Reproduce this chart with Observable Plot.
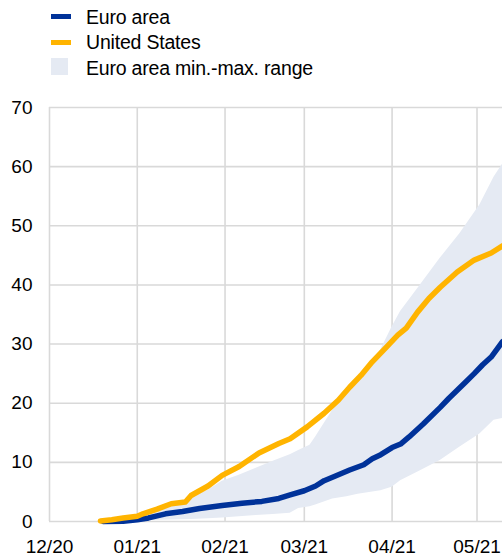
<!DOCTYPE html>
<html>
<head>
<meta charset="utf-8">
<script src="https://cdn.jsdelivr.net/npm/d3@7"></script>
<script src="https://cdn.jsdelivr.net/npm/@observablehq/plot@0.6"></script>
<style>
  html, body { margin: 0; padding: 0; background: #fff; }
  #wrap { position: relative; width: 502px; height: 556px; overflow: hidden; font-family: "Liberation Sans", Arial, sans-serif; }
  #legend { position: relative; width: 502px; height: 88px; }
  .sw { position: absolute; }
  .lt { position: absolute; left: 86px; font-size: 19.5px; line-height: 19.5px; color: #000; white-space: nowrap; letter-spacing: -0.2px; }
</style>
</head>
<body>
<div id="wrap">
  <div id="legend"></div>
  <div id="chart"></div>
</div>
<script>
// ---- Data ----
const euroDates = ["2020-12-20","2020-12-27","2021-01-01","2021-01-05","2021-01-11","2021-01-17","2021-01-23","2021-01-31","2021-02-07","2021-02-14","2021-02-20","2021-02-24","2021-03-01","2021-03-05","2021-03-08","2021-03-12","2021-03-17","2021-03-22","2021-03-25","2021-03-28","2021-04-01","2021-04-04","2021-04-07","2021-04-12","2021-04-18","2021-04-21","2021-04-24","2021-04-27","2021-04-30","2021-05-03","2021-05-06","2021-05-10"];
const euroValues = [0,0.05,0.3,0.6,1.3,1.7,2.2,2.7,3.1,3.4,3.9,4.5,5.2,6.0,6.9,7.7,8.7,9.6,10.6,11.3,12.5,13.1,14.3,16.5,19.3,20.8,22.2,23.6,25.0,26.5,27.8,30.4];

const usDates = ["2020-12-19","2020-12-23","2020-12-27","2021-01-01","2021-01-03","2021-01-08","2021-01-13","2021-01-18","2021-01-20","2021-01-26","2021-01-31","2021-02-06","2021-02-13","2021-02-20","2021-02-24","2021-03-02","2021-03-08","2021-03-13","2021-03-17","2021-03-21","2021-03-25","2021-03-30","2021-04-03","2021-04-06","2021-04-10","2021-04-14","2021-04-18","2021-04-24","2021-04-30","2021-05-06","2021-05-10"];
const usValues = [0.1,0.3,0.6,0.9,1.3,2.1,3.0,3.3,4.4,6.0,7.8,9.3,11.6,13.2,14.0,16.0,18.3,20.5,22.7,24.7,27.0,29.5,31.5,32.7,35.4,37.7,39.6,42.2,44.2,45.4,46.6];

const rangeDates = ["2020-12-19","2021-01-01","2021-01-09","2021-01-16","2021-01-20","2021-01-26","2021-01-31","2021-02-06","2021-02-12","2021-02-18","2021-02-24","2021-02-27","2021-03-03","2021-03-05","2021-03-11","2021-03-16","2021-03-20","2021-03-28","2021-04-01","2021-04-04","2021-04-11","2021-04-18","2021-04-25","2021-05-02","2021-05-07","2021-05-10"];
const rangeMax = [0,0.9,2.0,3.1,4.0,5.3,6.8,7.8,9.0,10.2,11.3,12.0,12.9,14.3,18.8,21.8,24.0,29.0,32.9,35.5,40.0,44.5,48.7,53.5,58.2,60.4];
const rangeMin = [0,0.1,0.2,0.3,0.35,0.45,0.6,0.8,1.0,1.2,1.4,2.2,2.5,2.8,3.8,4.2,4.6,5.2,5.8,6.9,8.6,10.3,12.6,14.8,17.1,17.4];

const seriesNames = ["Euro area", "United States", "Euro area min.-max. range"];
const seriesColors = ["#003299", "#FFB400", "#E5EAF3"];

const xTickDates = ["2020-12-01","2021-01-01","2021-02-01","2021-03-01","2021-04-01","2021-05-01"];
const yTicks = [0,10,20,30,40,50,60,70];
const xDomain = ["2020-12-01","2021-05-10"];

// ---- Build tables ----
const parse = d3.utcParse("%Y-%m-%d");
const euro = euroDates.map((d,i) => ({date: parse(d), value: euroValues[i]}));
const us = usDates.map((d,i) => ({date: parse(d), value: usValues[i]}));
const range = rangeDates.map((d,i) => ({date: parse(d), lo: rangeMin[i], hi: rangeMax[i]}));
const xTicks = xTickDates.map(parse);

// ---- Legend ----
const legend = document.getElementById("legend");
const legendItems = [
  {name: seriesNames[0], color: seriesColors[0], kind: "line", top: 13.5, textTop: 7.5},
  {name: seriesNames[1], color: seriesColors[1], kind: "line", top: 39.5, textTop: 32.5},
  {name: seriesNames[2], color: seriesColors[2], kind: "box", top: 58, textTop: 58.5}
];
legendItems.forEach(it => {
  const sw = document.createElement("div");
  sw.className = "sw";
  sw.style.left = "51px";
  sw.style.top = it.top + "px";
  sw.style.background = it.color;
  if (it.kind === "line") { sw.style.width = "20px"; sw.style.height = "5px"; }
  else { sw.style.width = "17px"; sw.style.height = "17px"; }
  legend.appendChild(sw);
  const t = document.createElement("div");
  t.className = "lt";
  t.style.top = it.textTop + "px";
  t.textContent = it.name;
  legend.appendChild(t);
});

// ---- Chart ----
const gridColor = "#d9d9d9";
const chart = Plot.plot({
  width: 502,
  height: 468,
  marginLeft: 49,
  marginRight: 0,
  marginTop: 19,
  marginBottom: 35,
  style: {fontFamily: "'Liberation Sans', Arial, sans-serif", fontSize: "19px", color: "#000", background: "#fff", overflow: "visible"},
  x: {type: "utc", domain: xDomain.map(parse)},
  y: {domain: [0, 70]},
  marks: [
    Plot.gridY(yTicks, {stroke: gridColor, strokeOpacity: 1, strokeWidth: 1.6}),
    Plot.gridX(xTicks, {stroke: gridColor, strokeOpacity: 1, strokeWidth: 1.6}),
    Plot.areaY(range, {x: "date", y1: "lo", y2: "hi", fill: seriesColors[2], fillOpacity: 1}),
    Plot.lineY(euro, {x: "date", y: "value", stroke: seriesColors[0], strokeWidth: 5.5, strokeLinejoin: "round", strokeLinecap: "round"}),
    Plot.lineY(us, {x: "date", y: "value", stroke: seriesColors[1], strokeWidth: 5.5, strokeLinejoin: "round", strokeLinecap: "round"}),
    Plot.axisY(yTicks, {tickSize: 0, tickPadding: 17, label: null, fontSize: 19}),
    Plot.axisX(xTicks, {tickSize: 0, tickPadding: 18, tickFormat: d3.utcFormat("%m/%y"), label: null, fontSize: 19})
  ]
});
document.getElementById("chart").appendChild(chart);
</script>
</body>
</html>
